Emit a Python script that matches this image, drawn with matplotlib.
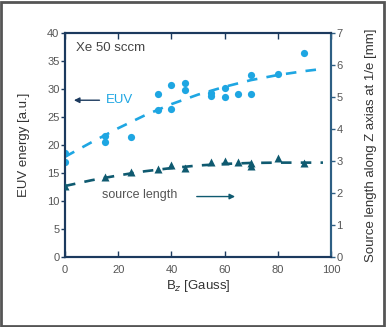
import matplotlib.pyplot as plt
from matplotlib.patches import Rectangle

plt.rcParams["font.family"] = ["Liberation Sans", "DejaVu Sans"]

# EUV energy measurements (left axis)
euv_b = [0, 0, 15, 15, 25, 35, 35, 40, 40, 45, 45, 55, 55, 60, 60, 65, 70, 70, 80, 90]
euv_e = [18.5, 17.0, 21.7, 20.6, 21.5, 29.2, 26.3, 30.8, 26.5, 31.1, 29.8,
         29.3, 28.7, 30.1, 28.5, 29.2, 32.5, 29.2, 32.6, 36.4]

# dashed trend for EUV
euv_fit_b = [0, 10, 20, 30, 40, 50, 60, 70, 80, 90, 97]
euv_fit_e = [17.9, 20.5, 23.0, 25.3, 27.3, 29.0, 30.4, 31.6, 32.5, 33.2, 33.6]

# source length measurements (right axis, mm)
src_b = [0, 15, 25, 35, 40, 45, 55, 60, 65, 70, 70, 80, 90]
src_l = [2.23, 2.49, 2.67, 2.74, 2.88, 2.79, 2.96, 3.01, 2.96, 2.94, 2.84, 3.11, 2.95]

src_fit_b = [0, 10, 20, 30, 40, 50, 60, 70, 80, 90, 97]
src_fit_l = [2.22, 2.40, 2.55, 2.68, 2.78, 2.86, 2.91, 2.94, 2.95, 2.95, 2.95]

x_ticks = [0, 20, 40, 60, 80, 100]
euv_ticks = [0, 5, 10, 15, 20, 25, 30, 35, 40]
src_ticks = [0, 1, 2, 3, 4, 5, 6, 7]

light = "#1ea6e2"
dark = "#0f5a70"
navy = "#1c3a5e"
steel = "#2e5f84"
grey = "#555555"


def main():
    fig = plt.figure(figsize=(3.86, 3.27), dpi=100)
    fig.patches.append(Rectangle((0.003, 0.003), 0.992, 0.992, transform=fig.transFigure,
                                 fill=False, edgecolor="#555555", linewidth=2))
    ax = fig.add_axes([0.1684, 0.214, 0.689, 0.685])
    ax2 = ax.twinx()

    ax.plot(euv_fit_b, euv_fit_e, "--", color=light, lw=1.9, dashes=(4, 3.5), zorder=2)
    ax.plot(euv_b, euv_e, "o", color=light, ms=5.2, mec="none", zorder=3)
    ax2.plot(src_fit_b, src_fit_l, "--", color=dark, lw=1.9, dashes=(4, 3.5), zorder=2)
    ax2.plot(src_b, src_l, "^", color=dark, ms=5.5, mec="none", zorder=3)

    ax.set_xlim(0, 100)
    ax.set_ylim(0, 40)
    ax2.set_ylim(0, 7)
    ax.set_xticks(x_ticks)
    ax.set_yticks(euv_ticks)
    ax2.set_yticks(src_ticks)

    for a in (ax, ax2):
        for s in a.spines.values():
            s.set_color(navy)
            s.set_linewidth(1.5)
        a.spines["right"].set_color(steel)
    ax.tick_params(axis="y", direction="out", length=3, width=1, colors=navy,
                   labelcolor=grey, labelsize=8, pad=1)
    ax.tick_params(axis="x", direction="in", length=4, width=1, colors=navy,
                   labelcolor=grey, labelsize=8, top=True, pad=6)
    ax2.tick_params(axis="y", direction="out", length=3, width=1, colors=steel,
                    labelcolor=grey, labelsize=8, pad=1)

    ax.set_xlabel("B$_z$ [Gauss]", fontsize=9.5, color="#333333", labelpad=2)
    ax.set_ylabel("EUV energy [a.u.]", fontsize=9.5, color="#333333", labelpad=12)
    ax2.set_ylabel("Source length along Z axias at 1/e [mm]", fontsize=9.5,
                   color="#333333", labelpad=16)

    ax.text(4, 37.4, "Xe 50 sccm", fontsize=9.5, color="#444444", va="center")
    ax.text(15.5, 28.0, "EUV", fontsize=9.5, color=light, va="center")
    ax.annotate("", xy=(2.3, 28.0), xytext=(14, 28.0),
                arrowprops=dict(arrowstyle="-|>", color=navy, lw=1, mutation_scale=8))
    ax.text(13.8, 11.1, "source length", fontsize=9, color=grey, va="center")
    ax.annotate("", xy=(65, 10.8), xytext=(48.5, 10.8),
                arrowprops=dict(arrowstyle="-|>", color=dark, lw=1, mutation_scale=8))

    fig.savefig("out.png", dpi=100)


if __name__ == "__main__":
    main()
